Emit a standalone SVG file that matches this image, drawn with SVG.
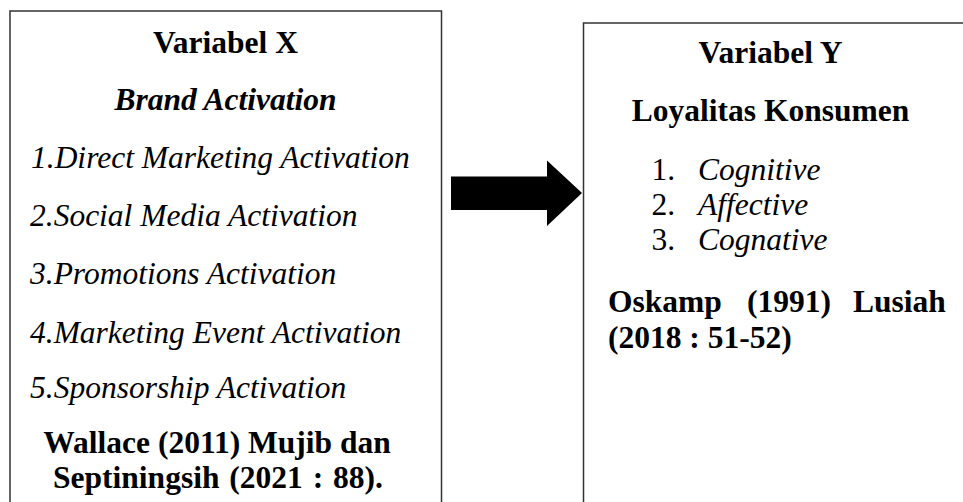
<svg xmlns="http://www.w3.org/2000/svg" width="963" height="502" viewBox="0 0 963 502">
<style>
.box{fill:#ffffff;stroke:#333333;stroke-width:1.5}
.t{font-family:"Liberation Serif","Times New Roman",serif;font-size:31.5px;fill:#000000}
.b{font-weight:bold}
.i{font-style:italic}
.c{text-anchor:middle}
</style>
<rect width="963" height="502" fill="#ffffff"/>
<g id="node-x">
<rect class="box" x="10" y="11" width="431.5" height="520"/>
<text class="t b c" x="225.5" y="53">Variabel X</text>
<text class="t b i c" x="225.5" y="110">Brand Activation</text>
<text class="t i" x="31" y="168">1.Direct Marketing Activation</text>
<text class="t i" x="30" y="226">2.Social Media Activation</text>
<text class="t i" x="30" y="284">3.Promotions Activation</text>
<text class="t i" x="30" y="343">4.Marketing Event Activation</text>
<text class="t i" x="30" y="398">5.Sponsorship Activation</text>
<text class="t b c" x="217" y="453">Wallace (2011) Mujib dan</text>
<text class="t b c" x="218" y="488" word-spacing="2">Septiningsih (2021 : 88).</text>
</g>
<g id="connectors">
<polygon points="451,176.5 547,176.5 547,160.5 582,193 547,226 547,210 451,210" fill="#000000"/>
</g>
<g id="node-y">
<rect class="box" x="583.5" y="23" width="400" height="520"/>
<text class="t b c" x="770.5" y="63">Variabel Y</text>
<text class="t b c" x="770.5" y="121">Loyalitas Konsumen</text>
<text class="t" x="651.5" y="180">1.</text><text class="t i" x="698" y="180">Cognitive</text>
<text class="t" x="651.5" y="215">2.</text><text class="t i" x="698" y="215">Affective</text>
<text class="t" x="651.5" y="250">3.</text><text class="t i" x="698" y="250">Cognative</text>
<text class="t b" y="312"><tspan x="608">Oskamp</tspan><tspan x="747">(1991)</tspan><tspan x="853">Lusiah</tspan></text>
<text class="t b" x="608" y="348">(2018 : 51-52)</text>
</g>
</svg>
